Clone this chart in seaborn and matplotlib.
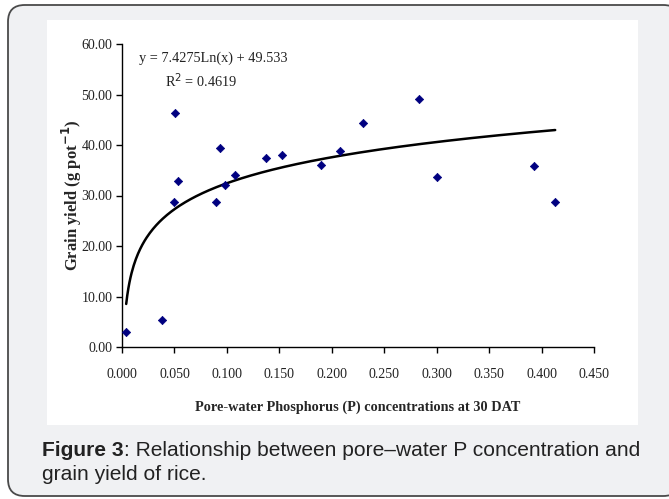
import numpy as np
import pandas as pd
import seaborn as sns
import matplotlib
matplotlib.use("Agg")
import matplotlib.pyplot as plt
from matplotlib.patches import FancyBboxPatch, Rectangle

# Pore-water P at 30 DAT (mg/L) and grain yield (g pot^-1)
pore_p = [0.004, 0.038, 0.0495, 0.0505, 0.053, 0.090, 0.093, 0.098, 0.108,
          0.137, 0.153, 0.190, 0.208, 0.230, 0.283, 0.300, 0.393, 0.413]
grain_yield = [2.9, 5.4, 28.7, 46.4, 32.8, 28.7, 39.4, 32.1, 34.1,
               37.4, 38.1, 36.0, 38.8, 44.4, 49.1, 33.7, 35.8, 28.7]

# Logarithmic trend line coefficients
coef_a = 7.4275
coef_b = 49.533
r_squared = 0.4619

x_ticks = [0.0, 0.05, 0.10, 0.15, 0.20, 0.25, 0.30, 0.35, 0.40, 0.45]
y_ticks = [0, 10, 20, 30, 40, 50, 60]

df = pd.DataFrame({"p": pore_p, "yield": grain_yield})
x_fit = np.linspace(min(pore_p), max(pore_p), 400)
fit = pd.DataFrame({"p": x_fit, "yield": coef_a * np.log(x_fit) + coef_b})

sns.set_style("white")
plt.rcParams["font.family"] = ["Liberation Serif", "DejaVu Serif"]

W, H = 669, 499
fig = plt.figure(figsize=(W / 100, H / 100), dpi=100)
fig.patch.set_facecolor("white")


def fx(px):
    return px / W


def fy(py):
    return 1 - py / H


# Outer rounded card and inner white panel (figure pixel coordinates)
card = FancyBboxPatch((fx(8), fy(496)), fx(680) - fx(8), fy(5) - fy(496),
                      boxstyle="round,pad=0,rounding_size=0.025",
                      transform=fig.transFigure, facecolor="#f0f1f3",
                      edgecolor="#4a4a4a", linewidth=1.3,
                      mutation_aspect=W / H, zorder=0)
fig.patches.append(card)
panel = Rectangle((fx(47), fy(425)), fx(638) - fx(47), fy(20) - fy(425),
                  transform=fig.transFigure, facecolor="white",
                  edgecolor="none", zorder=1)
fig.patches.append(panel)

ax = fig.add_axes([fx(122), fy(347), fx(594) - fx(122), fy(44) - fy(347)])
ax.set_zorder(5)
ax.set_facecolor("none")

sns.lineplot(data=fit, x="p", y="yield", ax=ax, color="black", linewidth=1.8)
sns.scatterplot(data=df, x="p", y="yield", ax=ax, marker="D", s=18,
                color="#000080", edgecolor="#000080", linewidth=0.5, zorder=3)

ax.set_xlim(0, 0.45)
ax.set_ylim(0, 60)
ax.set_xticks(x_ticks)
ax.set_xticklabels([f"{v:.3f}" for v in x_ticks])
ax.set_yticks(y_ticks)
ax.set_yticklabels([f"{v:.2f}" for v in y_ticks])
ax.tick_params(axis="both", which="major", direction="out", length=4,
               width=1, color="black", labelsize=10, labelcolor="#222222",
               bottom=True, left=True)
ax.tick_params(axis="x", pad=11)
ax.tick_params(axis="y", pad=3)
for side in ["top", "right"]:
    ax.spines[side].set_visible(False)
for side in ["left", "bottom"]:
    ax.spines[side].set_color("black")
    ax.spines[side].set_linewidth(1)

ax.set_xlabel("Pore-water Phosphorus (P) concentrations at 30 DAT",
              fontsize=10.3, fontweight="bold", labelpad=14)
ax.set_ylabel("Grain yield (g pot$^{\\mathbf{-1}}$)", fontsize=12,
              fontweight="bold", labelpad=-2)

ax.text(0.035, 0.953, f"y = {coef_a}Ln(x) + {coef_b}", transform=ax.transAxes,
        fontsize=10.3, color="#222222", va="center", ha="left")
ax.text(0.092, 0.878, f"R$^2$ = {r_squared}", transform=ax.transAxes,
        fontsize=10.3, color="#222222", va="center", ha="left")

cap_font = ["Liberation Sans", "DejaVu Sans"]
cap_size = 15.1
t_bold = fig.text(fx(42), fy(451), "Figure 3", family=cap_font,
                  fontsize=cap_size, fontweight="bold", color="#222222",
                  va="center", ha="left")
renderer = fig.canvas.get_renderer()
bb = t_bold.get_window_extent(renderer=renderer)
fig.text(bb.x1 / W, fy(451),
         ": Relationship between pore\u2013water P concentration and",
         family=cap_font, fontsize=cap_size, color="#222222", va="center",
         ha="left")
fig.text(fx(42), fy(474), "grain yield of rice.", family=cap_font,
         fontsize=cap_size, color="#222222", va="center", ha="left")

fig.savefig("out.png", dpi=100, facecolor=fig.get_facecolor())
